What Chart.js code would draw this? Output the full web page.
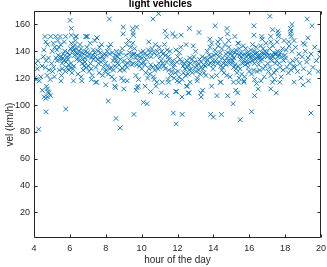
<!DOCTYPE html>
<html>
<head>
<meta charset="utf-8">
<script src="https://cdn.jsdelivr.net/npm/chart.js@4/dist/chart.umd.min.js"></script>
<style>
html,body{margin:0;padding:0;background:#fff;}
#c{display:block;}
</style>
</head>
<body>
<canvas id="c" width="327" height="267"></canvas>
<script>
const chartTitle = 'light vehicles';
const xAxisTitle = 'hour of the day';
const yAxisTitle = 'vel (km/h)';
const xTickValues = [4, 6, 8, 10, 12, 14, 16, 18, 20];
const yTickValues = [20, 40, 60, 80, 100, 120, 140, 160];
const xRange = [4, 20];
const yRange = [1, 170];

// [hour of the day, velocity km/h]
const lightVehicleSamples = [
[4.03,120],[4.08,131],[4.12,119],[4.18,127],[4.22,133],[4.30,118],[4.38,121],[4.45,129],
[4.52,136],[4.55,141],[4.61,151],[4.63,128],[4.68,133],[4.73,122],[4.76,145],[4.81,135],[4.84,126],[4.90,119],[4.93,151],[4.98,131],
[5.02,140],[5.04,125],[5.08,146],[5.10,128],[5.14,121],[5.16,143],[5.21,151],[5.23,135],[5.27,141],[5.29,133],[5.33,148],[5.35,137],[5.39,143],[5.41,126],[5.45,151],[5.46,134],[5.49,145],
[5.51,136],[5.53,122],[5.56,131],[5.58,127],[5.62,135],[5.63,138],[5.67,133],[5.69,147],[5.72,140],[5.74,125],[5.77,151],[5.79,132],[5.82,128],[5.84,136],[5.88,139],[5.89,134],[5.93,130],[5.95,126],[5.99,137],
[6.01,128],[6.03,142],[6.06,131],[6.08,146],[6.11,124],[6.13,140],[6.17,127],[6.18,143],[6.22,129],[6.24,141],[6.27,137],[6.29,145],[6.32,139],[6.34,151],[6.38,134],[6.39,142],[6.43,138],[6.45,123],[6.48,135],[6.30,148],
[6.51,140],[6.53,133],[6.56,145],[6.58,137],[6.62,142],[6.63,121],[6.67,139],[6.69,131],[6.72,134],[6.74,126],[6.77,138],[6.79,129],[6.83,135],[6.84,132],[6.88,140],[6.90,151],[6.93,128],[6.95,143],[6.98,139],[6.66,118],
[7.01,136],[7.03,129],[7.07,125],[7.09,138],[7.13,146],[7.15,131],[7.19,127],[7.21,135],[7.25,122],[7.27,137],[7.31,141],[7.33,134],[7.37,139],[7.39,148],[7.43,136],[7.45,128],[7.49,117],[7.20,119],[7.44,117],
[7.51,150],[7.53,134],[7.57,140],[7.59,131],[7.63,124],[7.65,143],[7.69,135],[7.71,139],[7.75,132],[7.77,145],[7.81,136],[7.83,122],[7.87,128],[7.89,134],[7.93,138],[7.95,125],[7.99,131],
[8.01,137],[8.03,126],[8.08,140],[8.10,129],[8.14,123],[8.16,143],[8.21,138],[8.23,127],[8.27,145],[8.30,128],[8.34,121],[8.36,139],[8.41,133],[8.43,126],[8.47,119],[8.49,135],
[8.51,129],[8.53,137],[8.58,133],[8.60,140],[8.65,131],[8.67,136],[8.72,138],[8.74,130],[8.79,126],[8.81,134],[8.85,139],[8.88,120],[8.92,142],[8.94,127],[8.99,118],
[9.02,133],[9.04,126],[9.09,130],[9.12,137],[9.17,145],[9.19,128],[9.24,131],[9.27,148],[9.32,139],[9.34,133],[9.39,143],[9.42,136],[9.46,130],[9.49,138],
[9.51,146],[9.53,131],[9.58,138],[9.61,142],[9.66,135],[9.68,122],[9.73,130],[9.76,137],[9.81,133],[9.83,119],[9.88,129],[9.91,136],[9.96,139],[9.98,131],
[10.01,127],[10.03,135],[10.08,140],[10.11,132],[10.16,138],[10.18,130],[10.23,124],[10.26,134],[10.31,137],[10.33,120],[10.38,141],[10.41,127],[10.46,123],[10.48,139],[10.40,147],
[10.51,130],[10.53,136],[10.58,142],[10.61,128],[10.66,121],[10.68,139],[10.73,126],[10.76,145],[10.81,129],[10.83,137],[10.88,140],[10.91,127],[10.96,131],[10.98,143],[10.70,119],
[11.02,128],[11.04,136],[11.09,133],[11.12,140],[11.17,131],[11.19,138],[11.24,129],[11.27,145],[11.32,127],[11.34,137],[11.39,132],[11.42,141],[11.47,119],[11.49,136],
[11.51,126],[11.53,134],[11.58,140],[11.61,122],[11.66,131],[11.68,125],[11.73,133],[11.76,128],[11.81,120],[11.83,130],[11.88,124],[11.91,141],[11.96,132],[11.98,118],
[12.01,136],[12.03,125],[12.08,121],[12.11,139],[12.16,134],[12.18,143],[12.23,132],[12.26,119],[12.31,129],[12.33,124],[12.38,131],[12.41,127],[12.46,122],[12.48,145],
[12.51,133],[12.53,128],[12.58,123],[12.61,130],[12.66,126],[12.68,135],[12.73,131],[12.76,127],[12.81,134],[12.83,124],[12.88,144],[12.91,136],[12.96,132],[12.98,128],
[13.01,140],[13.03,125],[13.08,129],[13.11,120],[13.16,131],[13.18,126],[13.23,134],[13.26,123],[13.31,128],[13.33,132],[13.38,136],[13.41,127],[13.46,130],[13.48,124],
[13.51,135],[13.53,129],[13.58,122],[13.61,132],[13.66,140],[13.68,134],[13.73,130],[13.76,137],[13.81,143],[13.83,131],[13.88,136],[13.91,121],[13.96,133],[13.98,127],[13.90,146],
[14.01,130],[14.03,137],[14.08,141],[14.11,133],[14.16,138],[14.18,122],[14.23,131],[14.26,144],[14.31,136],[14.33,132],[14.38,139],[14.41,129],[14.46,126],[14.48,142],[14.25,147],[14.40,117],
[14.51,135],[14.53,128],[14.57,131],[14.59,124],[14.63,133],[14.65,145],[14.69,138],[14.71,130],[14.75,122],[14.77,135],[14.81,139],[14.83,133],[14.87,143],[14.89,131],[14.93,121],[14.95,138],[14.99,134],
[15.01,140],[15.03,131],[15.07,137],[15.09,133],[15.13,128],[15.15,135],[15.19,139],[15.21,130],[15.25,141],[15.27,127],[15.31,124],[15.33,138],[15.37,146],[15.39,129],[15.43,120],[15.45,137],[15.49,127],[15.12,117],[15.44,142],
[15.51,134],[15.53,139],[15.56,136],[15.58,123],[15.62,131],[15.64,137],[15.67,144],[15.69,133],[15.73,138],[15.74,121],[15.78,130],[15.80,142],[15.83,136],[15.85,133],[15.89,139],[15.91,131],[15.94,128],[15.96,137],[15.99,125],[15.70,118],
[16.01,138],[16.03,132],[16.06,136],[16.08,141],[16.12,135],[16.13,123],[16.17,133],[16.19,145],[16.22,137],[16.24,126],[16.27,140],[16.29,131],[16.33,138],[16.34,134],[16.38,143],[16.40,135],[16.43,125],[16.45,139],[16.48,136],[16.30,119],
[16.51,137],[16.53,130],[16.56,135],[16.58,126],[16.62,133],[16.63,144],[16.67,136],[16.69,139],[16.72,134],[16.74,137],[16.77,142],[16.79,127],[16.83,138],[16.84,121],[16.88,140],[16.90,129],[16.93,146],[16.95,137],[16.98,139],[16.66,118],
[17.01,136],[17.03,131],[17.07,125],[17.09,137],[17.13,142],[17.15,128],[17.19,135],[17.21,122],[17.25,133],[17.27,137],[17.31,144],[17.33,136],[17.37,139],[17.39,124],[17.43,138],[17.45,131],[17.49,126],[17.20,147],[17.40,119],
[17.51,138],[17.53,133],[17.58,140],[17.60,136],[17.65,137],[17.67,131],[17.72,128],[17.74,139],[17.78,121],[17.81,136],[17.85,142],[17.88,126],[17.92,133],[17.94,148],[17.99,137],[17.70,117],
[18.02,135],[18.06,141],[18.10,128],[18.18,124],[18.22,144],[18.26,131],[18.34,126],[18.38,140],[18.42,133],[18.48,129],[18.20,147],
[18.53,128],[18.58,143],[18.64,134],[18.70,125],[18.76,138],[18.82,131],[18.88,120],[18.95,136],
[19.03,127],[19.12,140],[19.20,132],[19.28,135],[19.35,124],[19.45,138],
[19.55,128],[19.65,143],[19.74,133],[19.84,125],[19.92,136],[19.98,140],
[6.01,163],[6.08,157],[6.08,152],[4.65,147],[6.34,151],[6.90,151],[6.97,151],[7.50,150],[8.20,164],[8.98,158],[8.97,153],[9.50,157],[9.52,154],[9.54,152],[9.72,158],[10.63,164],[10.95,168],[11.30,155],[11.73,153],[11.86,151],[11.40,151],[12.20,152],[12.66,157],[13.20,154],[13.80,149],[14.10,159],[14.40,149],[14.76,157],[14.78,153],[14.85,148],[15.20,151],[15.40,146],[16.26,159],[16.26,152],[16.70,151],[16.72,149],[17.15,166],[17.30,156],[17.60,155],[17.62,153],[17.64,151],[17.20,151],[17.55,147],[18.38,160],[18.30,157],[18.32,155],[18.30,153],[18.34,151],[18.50,148],[19.23,164],[19.50,159],[19.27,150],[19.00,146],[19.10,145],
[4.26,82],[4.67,95],[4.46,111],[4.57,106],[4.65,105],[4.75,106],[4.93,107],[4.70,114],[4.75,112],[4.78,110],[4.82,109],[5.77,97],[5.50,118],[6.20,118],[8.00,115],[8.14,103],[8.50,114],[8.55,113],[8.57,90],[8.80,83],[9.00,112],[9.20,118],[9.57,93],[9.70,111],[9.75,113],[9.80,114],[10.10,102],[10.30,101],[10.20,114],[10.50,110],[10.80,114],[10.85,117],[11.10,109],[11.15,117],[11.40,107],[11.50,117],[11.77,94],[11.92,86],[11.90,110],[11.95,110],[12.10,117],[12.25,106],[12.26,93],[12.50,114],[12.55,114],[12.60,109],[12.65,109],[12.70,117],[13.10,118],[13.30,109],[13.32,106],[13.40,111],[13.85,93],[14.00,91],[13.90,114],[14.20,107],[14.45,93],[14.40,117],[14.80,107],[15.10,101],[15.25,111],[15.35,109],[15.40,117],[15.50,89],[15.70,117],[16.13,95],[16.30,107],[16.40,116],[16.50,112],[17.20,112],[17.30,117],[17.50,109],[18.50,117],[19.00,115],[19.30,118],[19.44,94]
];

const inkColor = '#262626';
const markerColor = '#0072BD';

const frameTicks = {
  id: 'frameTicks',
  afterDatasetsDraw(chart) {
    const {ctx, chartArea: a, scales} = chart;
    const L = Math.round(a.left) + 0.5, R = Math.round(a.right) - 0.5;
    const T = Math.round(a.top) + 0.5, B = Math.round(a.bottom) - 0.5;
    ctx.save();
    ctx.strokeStyle = inkColor;
    ctx.lineWidth = 1;
    ctx.beginPath();
    ctx.rect(L, T, R - L, B - T);
    const tl = 3;
    xTickValues.forEach(v => {
      const x = Math.round(scales.x.getPixelForValue(v)) + 0.5;
      ctx.moveTo(x, B); ctx.lineTo(x, B - tl);
      ctx.moveTo(x, T); ctx.lineTo(x, T + tl);
    });
    yTickValues.forEach(v => {
      const y = Math.round(scales.y.getPixelForValue(v)) + 0.5;
      ctx.moveTo(L, y); ctx.lineTo(L + tl, y);
      ctx.moveTo(R, y); ctx.lineTo(R - tl, y);
    });
    ctx.stroke();
    ctx.restore();
  }
};

new Chart(document.getElementById('c'), {
  type: 'scatter',
  data: {
    datasets: [{
      data: lightVehicleSamples.map(p => ({x: p[0], y: p[1]})),
      pointStyle: 'crossRot',
      pointRadius: 3.3,
      pointBorderWidth: 0.9,
      borderColor: markerColor,
      backgroundColor: markerColor
    }]
  },
  options: {
    responsive: false,
    animation: false,
    layout: {padding: {left: 0, right: 6, top: 0, bottom: 0}},
    plugins: {
      legend: {display: false},
      tooltip: {enabled: false},
      title: {
        display: true,
        text: chartTitle,
        color: '#000',
        font: {family: 'Liberation Sans, Arial, sans-serif', size: 10, weight: 'bold', lineHeight: 1.2},
        padding: {top: -2, bottom: 1}
      }
    },
    scales: {
      x: {
        type: 'linear',
        min: xRange[0], max: xRange[1],
        grid: {display: false, drawTicks: false},
        border: {display: false},
        afterBuildTicks: s => { s.ticks = xTickValues.map(v => ({value: v})); },
        afterFit: s => { s.height = 29; s.paddingLeft = 0; s.paddingRight = 0; },
        ticks: {color: inkColor, padding: 5, maxRotation: 0, autoSkip: false,
          font: {family: 'Liberation Sans, Arial, sans-serif', size: 9}},
        title: {display: true, text: xAxisTitle, color: inkColor, padding: {top: 0, bottom: 0.5},
          font: {family: 'Liberation Sans, Arial, sans-serif', size: 10}}
      },
      y: {
        type: 'linear',
        min: yRange[0], max: yRange[1],
        grid: {display: false, drawTicks: false},
        border: {display: false},
        afterBuildTicks: s => { s.ticks = yTickValues.map(v => ({value: v})); },
        afterFit: s => { s.width = 34; s.paddingTop = 0; s.paddingBottom = 0; },
        ticks: {color: inkColor, padding: 4, autoSkip: false,
          font: {family: 'Liberation Sans, Arial, sans-serif', size: 9}},
        title: {display: true, text: yAxisTitle, color: inkColor, padding: {top: 4, bottom: 0},
          font: {family: 'Liberation Sans, Arial, sans-serif', size: 10}}
      }
    }
  },
  plugins: [frameTicks]
});
</script>
</body>
</html>
